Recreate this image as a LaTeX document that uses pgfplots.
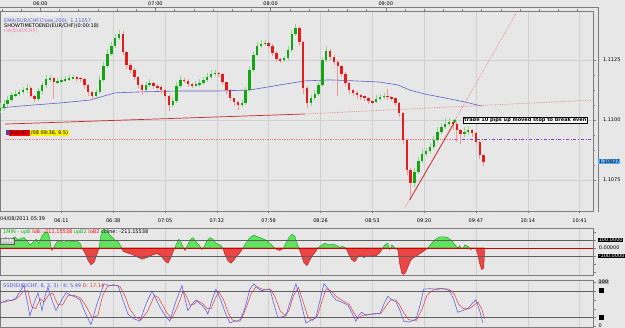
\documentclass[border=0pt]{standalone}
\usepackage{fontspec}
\setmainfont{DejaVu Sans}
\usepackage{pgfplots}
\usepackage{pgfplotstable}
\pgfplotsset{compat=1.18}

\definecolor{bg}{RGB}{231,231,231}
\definecolor{gridc}{RGB}{208,208,208}
\definecolor{axisgray}{RGB}{125,125,125}
\definecolor{candG}{RGB}{20,165,20}
\definecolor{candR}{RGB}{228,28,28}
\definecolor{wickG}{RGB}{140,215,140}
\definecolor{wickR}{RGB}{245,150,150}
\definecolor{emablue}{RGB}{95,95,200}
\definecolor{trendred}{RGB}{200,40,40}
\definecolor{dotpink}{RGB}{225,130,130}
\definecolor{stoppurple}{RGB}{130,60,200}
\definecolor{hapink}{RGB}{240,130,180}
\definecolor{tagblue}{RGB}{90,170,240}
\definecolor{histG}{RGB}{95,228,95}
\definecolor{histGd}{RGB}{30,150,30}
\definecolor{histR}{RGB}{235,70,70}
\definecolor{histRd}{RGB}{180,20,20}
\definecolor{darkline}{RGB}{95,95,95}
\definecolor{kblue}{RGB}{80,80,220}
\definecolor{dred}{RGB}{225,60,60}
\definecolor{stopblue}{RGB}{70,70,190}

\newcommand{\tinyf}{\fontsize{5}{6}\selectfont}

% time t = minutes after 05:39 (04/08/2011); Heikin-Ashi candles, 2-minute spacing
\pgfplotstableread{
t o c h l
0 1.11040 1.11050 1.11070 1.11030
2 1.11050 1.11067 1.11085 1.11040
4 1.11067 1.11083 1.11100 1.11060
6 1.11083 1.11104 1.11120 1.11075
8 1.11104 1.11108 1.11125 1.11095
10 1.11108 1.11117 1.11130 1.11100
12 1.11117 1.11125 1.11140 1.11110
14 1.11125 1.11133 1.11150 1.11115
20 1.11088 1.11121 1.11135 1.11080
22 1.11121 1.11146 1.11160 1.11110
24 1.11146 1.11171 1.11190 1.11135
26 1.11171 1.11175 1.11190 1.11160
30 1.11158 1.11162 1.11175 1.11150
32 1.11162 1.11167 1.11180 1.11155
34 1.11167 1.11171 1.11185 1.11160
36 1.11171 1.11175 1.11190 1.11165
38 1.11175 1.11179 1.11190 1.11170
50 1.11100 1.11117 1.11130 1.11095
52 1.11117 1.11167 1.11185 1.11110
54 1.11167 1.11225 1.11245 1.11160
56 1.11225 1.11275 1.11295 1.11215
58 1.11275 1.11308 1.11325 1.11265
60 1.11308 1.11342 1.11360 1.11300
62 1.11342 1.11358 1.11375 1.11335
76 1.11125 1.11146 1.11160 1.11120
78 1.11146 1.11154 1.11170 1.11140
90 1.11063 1.11079 1.11095 1.11055
92 1.11079 1.11142 1.11160 1.11070
94 1.11142 1.11167 1.11185 1.11135
102 1.11146 1.11150 1.11165 1.11140
104 1.11150 1.11154 1.11170 1.11140
106 1.11154 1.11167 1.11180 1.11145
108 1.11167 1.11179 1.11195 1.11160
110 1.11179 1.11192 1.11210 1.11170
112 1.11192 1.11196 1.11210 1.11185
126 1.11063 1.11071 1.11085 1.11055
128 1.11071 1.11125 1.11140 1.11065
130 1.11125 1.11208 1.11225 1.11115
132 1.11208 1.11271 1.11290 1.11200
134 1.11271 1.11308 1.11325 1.11265
136 1.11308 1.11317 1.11335 1.11300
138 1.11317 1.11321 1.11335 1.11310
148 1.11250 1.11258 1.11270 1.11245
150 1.11258 1.11292 1.11310 1.11250
152 1.11292 1.11358 1.11375 1.11285
154 1.11358 1.11383 1.11400 1.11350
162 1.11071 1.11092 1.11105 1.11060
164 1.11092 1.11108 1.11125 1.11085
166 1.11108 1.11146 1.11160 1.11100
168 1.11146 1.11250 1.11265 1.11140
170 1.11250 1.11288 1.11310 1.11240
196 1.11075 1.11088 1.11105 1.11070
198 1.11088 1.11096 1.11110 1.11080
200 1.11096 1.11100 1.11115 1.11090
216 1.10738 1.10783 1.10800 1.10720
218 1.10783 1.10829 1.10845 1.10775
220 1.10829 1.10858 1.10880 1.10820
222 1.10858 1.10871 1.10885 1.10850
224 1.10871 1.10888 1.10905 1.10865
226 1.10888 1.10917 1.10935 1.10880
228 1.10917 1.10950 1.10970 1.10910
230 1.10950 1.10971 1.10990 1.10945
232 1.10971 1.10983 1.11010 1.10965
234 1.10983 1.10992 1.11010 1.10975
242 1.10942 1.10950 1.10970 1.10930
244 1.10950 1.10958 1.10975 1.10940
}\gcandles

\pgfplotstableread{
t o c h l
16 1.11133 1.11100 1.11140 1.11090
18 1.11100 1.11088 1.11105 1.11075
28 1.11175 1.11158 1.11180 1.11090
40 1.11179 1.11177 1.11185 1.11165
42 1.11177 1.11171 1.11180 1.11160
44 1.11171 1.11146 1.11175 1.11130
46 1.11146 1.11117 1.11150 1.11100
48 1.11117 1.11100 1.11120 1.11085
64 1.11358 1.11283 1.11370 1.11270
66 1.11283 1.11229 1.11290 1.11215
68 1.11229 1.11208 1.11240 1.11195
70 1.11208 1.11179 1.11215 1.11165
72 1.11179 1.11146 1.11185 1.11130
74 1.11146 1.11125 1.11150 1.11105
80 1.11154 1.11142 1.11160 1.11130
82 1.11142 1.11138 1.11150 1.11125
84 1.11138 1.11125 1.11145 1.11110
86 1.11125 1.11100 1.11130 1.11085
88 1.11100 1.11063 1.11105 1.11040
96 1.11167 1.11165 1.11175 1.11155
98 1.11165 1.11150 1.11170 1.11140
100 1.11150 1.11146 1.11155 1.11135
114 1.11196 1.11192 1.11200 1.11180
116 1.11192 1.11158 1.11195 1.11145
118 1.11158 1.11125 1.11160 1.11110
120 1.11125 1.11092 1.11130 1.11080
122 1.11092 1.11075 1.11095 1.11060
124 1.11075 1.11063 1.11080 1.11045
140 1.11321 1.11308 1.11330 1.11300
142 1.11308 1.11279 1.11315 1.11265
144 1.11279 1.11254 1.11285 1.11240
146 1.11254 1.11250 1.11260 1.11240
156 1.11383 1.11325 1.11390 1.11310
158 1.11325 1.11133 1.11330 1.11110
160 1.11133 1.11071 1.11140 1.11050
172 1.11288 1.11263 1.11295 1.11250
174 1.11263 1.11242 1.11270 1.11230
176 1.11242 1.11225 1.11250 1.11100
178 1.11225 1.11192 1.11230 1.11180
180 1.11192 1.11154 1.11200 1.11140
182 1.11154 1.11125 1.11160 1.11110
184 1.11125 1.11113 1.11130 1.11100
186 1.11113 1.11104 1.11120 1.11090
188 1.11104 1.11100 1.11110 1.11085
190 1.11100 1.11092 1.11105 1.11080
192 1.11092 1.11079 1.11095 1.11065
194 1.11079 1.11075 1.11085 1.11065
202 1.11100 1.11096 1.11130 1.11085
204 1.11096 1.11092 1.11100 1.11080
206 1.11092 1.11071 1.11095 1.11060
208 1.11071 1.11029 1.11075 1.11015
210 1.11029 1.10917 1.11035 1.10900
212 1.10917 1.10792 1.10920 1.10770
214 1.10792 1.10738 1.10800 1.10667
236 1.10992 1.10983 1.11000 1.10960
238 1.10983 1.10958 1.10990 1.10910
240 1.10958 1.10942 1.10965 1.10900
246 1.10958 1.10946 1.10965 1.10930
248 1.10946 1.10908 1.10950 1.10895
250 1.10908 1.10854 1.10915 1.10840
252 1.10854 1.10827 1.10860 1.10810
}\rcandles

\pgfplotstableread{
t v
0 60
1.6 110
3.1 130
4.7 90
6.3 120
7.8 140
9.4 100
10.9 120
12.5 130
14.1 90
15.6 40
17.2 70
18.8 110
20.3 60
21.9 150
23.4 200
25 190
26 110
26.6 0
27.1 -30
27.6 0
28.1 10
29.7 80
31.3 90
33.3 70
35.4 90
37.5 80
39.6 90
41.7 60
42.7 0
44.3 -60
45.8 -150
47.4 -210
49 -180
50.5 -80
51.6 0
52.6 160
54.2 240
55.7 210
57.3 160
59.4 110
61.5 80
63 20
63.5 0
64.1 -40
66.1 -60
68.8 -80
71.4 -110
74 -140
76.6 -120
79.2 -90
81.8 -70
83.9 -100
85.9 -160
87.5 -190
89.1 -120
90.6 -20
91.2 0
91.7 40
93.2 110
94.8 50
95.6 0
96.4 -30
96.9 0
97.4 20
99 100
100.5 130
102.1 80
103.6 40
104.8 0
105.2 -20
105.8 0
106.3 10
107.8 90
109.4 130
110.9 110
112.5 60
114.6 40
116.1 0
117.2 -80
118.8 -160
120.3 -190
121.9 -150
123.4 -100
125 -60
126.6 0
128.1 60
130.2 130
132.3 160
134.4 140
136.5 120
138.5 100
140.6 60
142.2 20
143.2 0
144.3 -20
145.8 -30
147.4 -10
147.8 0
149 60
150.5 130
152.1 170
153.6 150
154.7 60
155.7 0
156.8 -70
158.3 -180
159.9 -220
161.5 -150
163 -90
164.6 -40
165.6 0
167.2 30
169.3 60
171.4 40
173.4 50
175.5 30
177.1 10
178.6 20
180.2 0
181.8 -80
183.3 -150
184.9 -170
186.5 -110
188 -90
189.6 -120
191.1 -100
192.7 -110
194.3 -90
195.8 -100
197.9 -60
199.5 0
200.5 40
202.1 60
202.6 0
203.1 -20
203.6 0
204.2 40
205.7 0
207.3 -20
208.3 -200
209.4 -320
210.4 -330
211.5 -300
212.5 -240
214.1 -150
215.6 -120
217.2 -100
218.8 -70
220.8 -40
222.9 0
225 60
227.1 110
229.2 140
231.3 140
233.3 130
235.4 90
237 40
238.5 0
239.6 30
240.1 0
240.6 -10
241.4 0
242.2 40
243.8 20
244.8 0
245.3 -20
246.4 0
247.9 0
249 -80
250 -200
251 -270
252.1 -250
252.5 0
}\cci

\pgfplotstableread{
t k
0 52
2 56
4.2 60
6 58
8.3 64
10.5 80
12.5 92
14 60
15.6 24
17.5 50
19.8 76
21.9 36
23.5 70
25 88
27 60
29.2 36
31.5 55
34.4 76
37 70
39.5 66
41.7 60
44.5 30
47.4 4
50.5 50
54.2 96
57 92
61.5 92
64 60
66.7 28
69.5 18
72.9 12
76 50
79.2 80
81.5 60
83.3 44
86 25
88.5 12
91.5 55
94.8 92
96.5 60
97.9 36
100 50
102.1 60
104 52
105.2 48
106.8 40
108.3 28
110.5 60
112.5 84
115 60
117.5 30
119.8 8
122 12
125 12
127.5 40
130.2 84
132.3 96
134.5 85
136.5 80
138.5 84
140.6 84
142.8 50
144.8 20
147 22
149 24
151.5 60
154.2 96
156.5 60
159.4 8
162 14
164.6 20
166.8 60
168.8 96
171 85
173 70
175 60
178 55
181.3 48
183.5 30
185.4 12
187 25
188.5 32
190.5 25
193.8 28
196 30
197.9 28
200 50
202.1 68
204 60
206.3 56
208.5 35
210.4 12
213 10
216.7 16
219 50
220.8 84
224 85
227 84
229.2 86
232 84
234.4 80
236.5 60
238.5 32
241 36
243.8 40
246 52
247.9 60
250 35
251.6 8
}\stochK

\pgfplotstableread{
t d
0 55
2.5 55
5 58
7.5 60
10 68
12.5 80
14.5 80
16.5 45
18.5 40
21 62
23 55
25.5 72
27.5 75
30 50
32.5 48
35.5 70
38.5 70
42 64
45 45
48 20
51 25
53.5 70
56 90
59 94
62.5 90
65.5 65
67.5 40
70.5 22
73.5 15
77 35
80.5 70
82.5 65
84.5 50
87 30
89.5 18
92.5 45
95.5 80
97.5 65
99 48
101 50
103 58
105.5 52
108 40
110 40
112 62
114 78
116.5 60
119 30
121 15
123.5 12
126 18
128.5 45
131 75
133.5 90
136 85
138.5 82
141 84
143.5 65
146 35
148.5 25
150.5 35
153 70
155.5 88
158 55
160.5 20
163 14
165.5 25
168 60
170 85
172.5 80
175 68
178.5 58
182 50
184.5 30
186.5 18
189 25
191.5 28
195 28
198.5 30
201 45
203.5 60
206 60
208 50
210.5 30
213 15
217 14
220 40
222.5 70
225.5 82
228.5 84
231 85
234 84
236.5 75
239 50
241.5 40
244.5 40
247 48
249 55
251 40
252.5 18
}\stochD

\pgfplotsset{
  panel/.style={
    scale only axis, width=593pt, xmin=0, xmax=309, anchor=north west,
    axis background/.style={fill=bg},
    axis line style={draw=axisgray, line width=0.6pt},
    tick style={draw=axisgray, line width=0.4pt},
    tick align=outside, major tick length=2.5pt, minor tick length=1.5pt,
    ticklabel style={font=\tinyf, text=black},
    /pgf/number format/assume math mode=true,
    xtick={32,59,86,113,140,167,194,221,248,275,302},
    xmajorgrids, major grid style={draw=gridc, line width=0.4pt},
    clip mode=individual,
  },
  candle/.style={draw=none, mark=none, forget plot,
    error bars/.cd, y dir=both, y explicit, error mark=none,
    error bar style={draw=#1}},
}

\begin{document}
\begin{tikzpicture}
\fill[bg] (0,0) rectangle (625pt,-328pt);

% ---------------- main price panel ----------------
\begin{axis}[panel, at={(0pt,-11pt)}, height=200pt,
  ymin=1.106208, ymax=1.114542, scaled y ticks=false,
  xticklabels={06:11,06:38,07:05,07:32,07:59,08:26,08:53,09:20,09:47,10:14,10:41},
  xtick pos=left, minor x tick num=4,
  xticklabel style={yshift=-1.5pt},
  ytick={1.1075,1.1100,1.1125}, yticklabels={1.1075,1.1100,1.1125},
  ytick pos=right, yticklabel pos=right, minor y tick num=3, ymajorgrids,
  yticklabel style={xshift=4pt},
]
% outer frame
\draw[axisgray, line width=0.6pt] ([yshift=4pt]rel axis cs:0,1) -- ([xshift=5pt,yshift=4pt]rel axis cs:1,1) -- ([xshift=5pt,yshift=-1pt]rel axis cs:1,0);

% EMA
\addplot[emablue, line width=0.6pt, mark=none] coordinates {
(0,1.11050) (10.4,1.11058) (31.3,1.11071) (46.9,1.11083) (59.9,1.11113) (72.9,1.11117)
(93.75,1.11121) (114.6,1.11121) (130.2,1.11125) (145.8,1.11146) (158.9,1.11163)
(171.9,1.11167) (184.9,1.11163) (197.9,1.11158) (207.3,1.11146) (213.5,1.11125)
(221.4,1.11108) (231.8,1.11092) (242.2,1.11075) (251,1.11058)};

% trend lines
\addplot[trendred, line width=0.7pt, mark=none] coordinates {(2.6,1.10983) (158.9,1.11025)};
\addplot[dotpink, densely dotted, line width=0.7pt, mark=none] coordinates {(158.9,1.11025) (309,1.11083)};
\addplot[dotpink, densely dotted, line width=0.7pt, mark=none] coordinates {(210.9,1.10633) (269.3,1.11450)};
\addplot[dotpink, densely dotted, line width=0.7pt, mark=none] coordinates {(2.6,1.10921) (237,1.10921)};
\addplot[stoppurple, dash dot, line width=0.8pt, mark=none] coordinates {(237,1.10921) (309,1.10921)};

% candles: wicks
\addplot[candle={wickG, line width=0.6pt}]
  table[x=t, y expr={(\thisrow{h}+\thisrow{l})/2}, y error expr={(\thisrow{h}-\thisrow{l})/2}] {\gcandles};
\addplot[candle={wickR, line width=0.6pt}]
  table[x=t, y expr={(\thisrow{h}+\thisrow{l})/2}, y error expr={(\thisrow{h}-\thisrow{l})/2}] {\rcandles};
% candles: bodies
\addplot[candle={candG, line width=2.4pt}]
  table[x=t, y expr={(\thisrow{o}+\thisrow{c})/2}, y error expr={max(abs(\thisrow{c}-\thisrow{o})/2,0.00002)}] {\gcandles};
\addplot[candle={candR, line width=2.4pt}]
  table[x=t, y expr={(\thisrow{o}+\thisrow{c})/2}, y error expr={max(abs(\thisrow{c}-\thisrow{o})/2,0.00002)}] {\rcandles};

\addplot[trendred, line width=0.7pt, mark=none] coordinates {(213.5,1.10667) (237,1.10992)};
\addplot[only marks, mark=*, mark size=1.3pt, color=green!70!black] coordinates {(237,1.10996)};

% texts
\node[anchor=north west, align=left, inner sep=0pt, font=\fontsize{5}{5.3}\selectfont]
  at ([xshift=4pt,yshift=-2pt]rel axis cs:0,1)
  {\textcolor{white}{[Template: Main scale]}\\
   \textcolor{emablue}{EMA(EUR/CHF.Close,200): 1.11057}\\
   SHOWTIMETOEND(EUR/CHF)(0:00:18)\\
   \textcolor{hapink}{HA(EUR/CHF)}};
\node[draw=black, fill=white, inner sep=0.8pt, anchor=west, font=\bfseries\fontsize{5}{6}\selectfont]
  at (axis cs:241.5,1.11000) {trade 10 pips up moved stop to break even};
\node[anchor=west, inner sep=0pt, font=\tinyf] at (axis cs:3.2,1.10946)
  {\setlength{\fboxsep}{0.7pt}\colorbox{stopblue}{\phantom{I}}\colorbox{red}{Stop(01}\colorbox{yellow}{/08 09:36, 9.5)}};
\node[fill=tagblue, inner sep=0.8pt, anchor=west, font=\tinyf] at ([xshift=5pt]axis cs:309,1.10827) {1.10827};
\node[anchor=north west, inner sep=0pt, font=\tinyf] at ([yshift=-5.5pt]rel axis cs:0,0) {04/08/2011 05:39};
\end{axis}

% top time axis
\begin{axis}[scale only axis, width=593pt, height=200pt, at={(0pt,-11pt)}, anchor=north west,
  xmin=0, xmax=309, ymin=0, ymax=1, axis x line*=top, axis y line=none,
  axis line style={draw=axisgray, line width=0.6pt},
  tick style={draw=axisgray, line width=0.4pt}, tick align=outside,
  major tick length=3pt, minor tick length=2pt,
  xtick={21,81,141,201}, xticklabels={06:00,07:00,08:00,09:00},
  minor xtick={1,11,31,41,51,61,71,91,101,111,121,131,151,161,171,181,191,211,221,231,241,251,261,271,281,291,301},
  xticklabel style={font=\tinyf, yshift=-1pt},
  /pgf/number format/assume math mode=true]
\end{axis}

% ---------------- middle panel (histogram) ----------------
\begin{axis}[panel, at={(0pt,-228pt)}, height=47pt,
  ymin=-337.5, ymax=250, xticklabels={}, xtick style={draw=none},
  ytick={-300,-200,-100,0,100,200}, yticklabels={}, ytick pos=right,
]
\addplot[draw=histGd, fill=histG, line width=0.4pt, mark=none] table[x=t, y expr={max(\thisrow{v},0)}] {\cci} \closedcycle;
\addplot[draw=histRd, fill=histR, line width=0.4pt, mark=none] table[x=t, y expr={min(\thisrow{v},0)}] {\cci} \closedcycle;
\addplot[darkline, line width=0.6pt, mark=none] coordinates {(0,100) (309,100)};
\addplot[darkline, line width=0.6pt, mark=none] coordinates {(0,-100) (309,-100)};
\addplot[red!80!black, line width=0.3pt, mark=none] coordinates {(0,0) (309,0)};
\node[anchor=north west, inner sep=0pt, font=\tinyf] at ([xshift=3pt,yshift=-1.5pt]rel axis cs:0,1)
  {\textcolor{histGd!70!green}{1MIN - upB} \textcolor{red}{loB: -211.15538} \textcolor{histGd!70!green}{upB2} \textcolor{red}{loB2} ccline: -211.15538};
\node[draw=darkline, fill=gray!45, inner sep=0.8pt, anchor=west, font=\tinyf, text=white] at (rel axis cs:0,0.72) {1MIN};
\node[fill=black, text=white, inner sep=0.6pt, anchor=west, font=\tinyf] at ([xshift=5pt]axis cs:309,100) {100.0000};
\node[inner sep=0.6pt, anchor=west, font=\tinyf] at ([xshift=5pt]axis cs:309,0) {0.00000};
\node[fill=black, text=white, inner sep=0.6pt, anchor=west, font=\tinyf] at ([xshift=5pt]axis cs:309,-100) {-100.0000};
\end{axis}

% ---------------- bottom panel (stochastic) ----------------
\begin{axis}[panel, at={(0pt,-280pt)}, height=47pt,
  ymin=-1, ymax=104.5, xticklabels={}, xtick style={draw=none},
  ytick={0,20,40,60,80,100}, yticklabels={}, ytick pos=right,
]
\addplot[darkline, line width=0.6pt, mark=none] coordinates {(0,80) (309,80)};
\addplot[darkline, line width=0.6pt, mark=none] coordinates {(0,20) (309,20)};
\addplot[dred, line width=0.5pt, mark=none] table[x=t, y=d] {\stochD};
\addplot[kblue, line width=0.5pt, mark=none] table[x=t, y=k] {\stochK};
\node[anchor=north west, inner sep=0pt, font=\tinyf] at ([xshift=3pt,yshift=-4pt]rel axis cs:0,1)
  {\textcolor{kblue}{SSD(EUR/CHF, 8, 3, 3) - K: 5.49} \textcolor{dred}{D: 17.14}};
\node[fill=gray!60, text=black, inner sep=0.5pt, anchor=west, font=\tinyf] at ([xshift=5pt]axis cs:309,100) {100};
\node[fill=black, minimum size=5pt, inner sep=0pt, anchor=west] at ([xshift=6pt]axis cs:309,80) {};
\node[fill=black, minimum size=5pt, inner sep=0pt, anchor=west] at ([xshift=6pt]axis cs:309,20) {};
\node[inner sep=0.5pt, anchor=west, font=\tinyf] at ([xshift=5pt]axis cs:309,3) {0};
\end{axis}

\pgfresetboundingbox
\useasboundingbox (0,0) rectangle (625pt,-328pt);
\end{tikzpicture}
\end{document}
